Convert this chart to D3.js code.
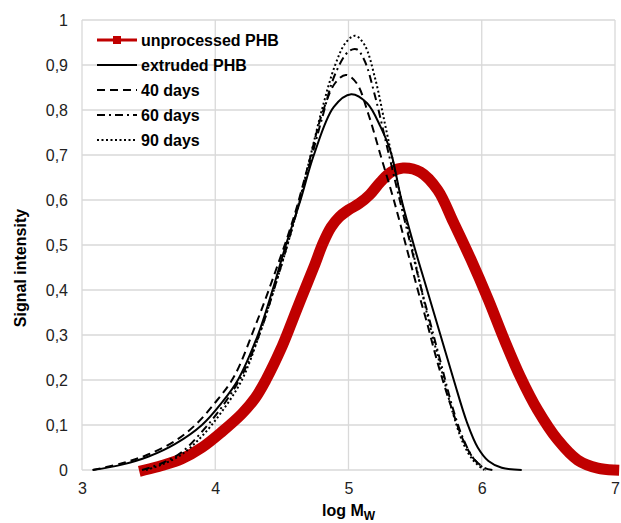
<html>
<head>
<script src="https://d3js.org/d3.v7.min.js"></script>
<style>
  body { margin: 0; background: #fff; }
  text { font-family: "Liberation Sans", Arial, sans-serif; }
  .tick-label { font-size: 16px; fill: #222; }
  .title { font-size: 16px; font-weight: bold; fill: #000; }
  .legend { font-size: 16px; font-weight: bold; fill: #000; }
</style>
</head>
<body>
<script>
// ---------------------------------------------------------------
// data  [log Mw, signal intensity]
// ---------------------------------------------------------------
var unprocessed = [
  [3.47,0],[3.6,0.01],[3.75,0.025],[3.9,0.05],[4.05,0.085],[4.2,0.125],[4.3,0.16],
  [4.38,0.2],[4.49,0.267],[4.57,0.325],[4.64,0.378],[4.74,0.451],[4.81,0.505],[4.87,0.54],
  [4.93,0.562],[5.0,0.578],[5.08,0.592],[5.16,0.612],[5.24,0.64],[5.32,0.662],[5.41,0.671],
  [5.54,0.662],[5.67,0.622],[5.79,0.549],[5.92,0.467],[6.05,0.378],[6.17,0.289],
  [6.29,0.207],[6.42,0.133],[6.57,0.067],[6.72,0.022],[6.87,0.004],[6.99,0]
];
var extruded = [
  [3.08,0],[3.3,0.012],[3.5,0.03],[3.7,0.058],[3.9,0.1],[4.05,0.15],[4.17,0.2],[4.32,0.3],
  [4.43,0.4],[4.53,0.5],[4.64,0.6],[4.74,0.7],[4.89,0.807],[5.02,0.835],[5.14,0.815],
  [5.24,0.763],[5.32,0.704],[5.39,0.61],[5.49,0.5],[5.59,0.4],[5.69,0.3],[5.79,0.2],
  [5.89,0.105],[5.97,0.05],[6.05,0.02],[6.15,0.005],[6.3,0]
];
var days40 = [
  [3.08,0],[3.3,0.015],[3.5,0.035],[3.7,0.065],[3.85,0.1],[4.0,0.15],[4.14,0.207],[4.3,0.32],
  [4.45,0.44],[4.59,0.562],[4.7,0.68],[4.8,0.79],[4.9,0.86],[4.98,0.878],[5.06,0.86],
  [5.15,0.79],[5.25,0.69],[5.34,0.6],[5.44,0.489],[5.52,0.4],[5.59,0.326],[5.67,0.237],
  [5.77,0.141],[5.86,0.067],[5.94,0.025],[6.02,0.005],[6.08,0]
];
var days60 = [
  [3.45,0],[3.6,0.015],[3.75,0.04],[3.9,0.085],[4.05,0.14],[4.2,0.21],[4.33,0.3],[4.45,0.41],
  [4.57,0.53],[4.7,0.67],[4.8,0.78],[4.9,0.88],[5.0,0.93],[5.06,0.935],[5.12,0.91],
  [5.2,0.83],[5.28,0.73],[5.36,0.63],[5.45,0.52],[5.54,0.41],[5.62,0.32],[5.7,0.23],
  [5.78,0.14],[5.86,0.07],[5.94,0.025],[6.03,0]
];
var days90 = [
  [3.48,0],[3.6,0.012],[3.75,0.035],[3.9,0.075],[4.05,0.13],[4.2,0.2],[4.33,0.3],[4.45,0.41],
  [4.58,0.54],[4.7,0.68],[4.8,0.8],[4.9,0.9],[4.98,0.95],[5.05,0.965],[5.12,0.945],
  [5.2,0.87],[5.28,0.76],[5.36,0.65],[5.45,0.53],[5.54,0.41],[5.62,0.31],[5.7,0.22],
  [5.78,0.13],[5.86,0.06],[5.94,0.02],[6.02,0]
];
var seriesNames = ["unprocessed PHB", "extruded PHB", "40 days", "60 days", "90 days"];
var xTicks = [3, 4, 5, 6, 7];
var yTicks = [0, 0.1, 0.2, 0.3, 0.4, 0.5, 0.6, 0.7, 0.8, 0.9, 1];

// ---------------------------------------------------------------
// layout
// ---------------------------------------------------------------
var W = 621, H = 523;
var plot = { left: 82, right: 615, top: 20, bottom: 470 };

var svg = d3.select("body").append("svg").attr("width", W).attr("height", H);

var x = d3.scaleLinear().domain([3, 7]).range([plot.left, plot.right]);
var y = d3.scaleLinear().domain([0, 1]).range([plot.bottom, plot.top]);

// grid
var grid = svg.append("g");
grid.selectAll(".hg").data(yTicks).enter().append("line")
  .attr("x1", plot.left).attr("x2", plot.right)
  .attr("y1", function(d){ return y(d); }).attr("y2", function(d){ return y(d); })
  .attr("stroke", "#d9d9d9").attr("stroke-width", 1.3);
grid.selectAll(".vg").data(xTicks).enter().append("line")
  .attr("y1", plot.top).attr("y2", plot.bottom)
  .attr("x1", function(d){ return x(d); }).attr("x2", function(d){ return x(d); })
  .attr("stroke", "#d9d9d9").attr("stroke-width", 1.3);

// axes labels (axis generators, lines hidden)
var fmt = function(d){ return String(d3.format("~g")(d)).replace(".", ","); };
var xAxis = svg.append("g").attr("transform", "translate(0," + plot.bottom + ")")
  .call(d3.axisBottom(x).tickValues(xTicks).tickFormat(fmt).tickSize(0).tickPadding(13));
var yAxis = svg.append("g").attr("transform", "translate(" + plot.left + ",0)")
  .call(d3.axisLeft(y).tickValues(yTicks).tickFormat(fmt).tickSize(0).tickPadding(14));
[xAxis, yAxis].forEach(function(a){
  a.select(".domain").remove();
  a.selectAll("text").attr("class", "tick-label").attr("font-size", null).attr("font-family", null);
});

// titles
svg.append("text").attr("class", "title")
  .attr("transform", "translate(26,268) rotate(-90)")
  .attr("text-anchor", "middle").text("Signal intensity");
var xt = svg.append("text").attr("class", "title")
  .attr("x", (plot.left + plot.right) / 2).attr("y", 516).attr("text-anchor", "middle");
xt.append("tspan").text("log M");
xt.append("tspan").attr("dy", 4).style("font-size", "12px").text("W");

// curves
var line = d3.line()
  .x(function(d){ return x(d[0]); })
  .y(function(d){ return y(d[1]); })
  .curve(d3.curveCatmullRom.alpha(0.5));

var styles = [
  { data: unprocessed, color: "#c00000", width: 11, dash: null },
  { data: extruded, color: "#000", width: 2, dash: null },
  { data: days40, color: "#000", width: 2, dash: "8,5" },
  { data: days60, color: "#000", width: 2, dash: "8,4,2,4" },
  { data: days90, color: "#000", width: 2, dash: "2,2.5" }
];

styles.forEach(function(s){
  svg.append("path").datum(s.data)
    .attr("d", line)
    .attr("fill", "none")
    .attr("stroke", s.color)
    .attr("stroke-width", s.width)
    .attr("stroke-linejoin", "round")
    .attr("stroke-linecap", s.width > 5 ? "square" : "butt")
    .attr("stroke-dasharray", s.dash);
});

// legend
var legend = svg.append("g");
seriesNames.forEach(function(name, i){
  var s = styles[i];
  var ly = 40 + i * 25;
  legend.append("line")
    .attr("x1", 97).attr("x2", 137).attr("y1", ly).attr("y2", ly)
    .attr("stroke", s.color).attr("stroke-width", i === 0 ? 3 : 2)
    .attr("stroke-dasharray", s.dash);
  if (i === 0) {
    legend.append("rect").attr("x", 113).attr("y", ly - 4).attr("width", 8).attr("height", 8)
      .attr("fill", s.color);
  }
  legend.append("text").attr("class", "legend")
    .attr("x", 141).attr("y", ly + 6).text(name);
});
</script>
</body>
</html>
